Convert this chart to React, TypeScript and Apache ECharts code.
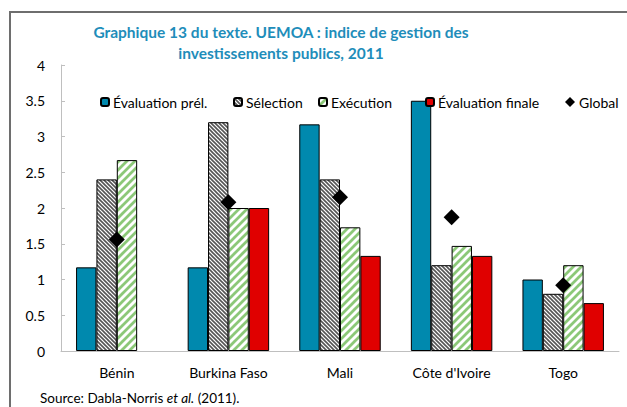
import React, { useEffect, useRef } from "react";
import * as echarts from "echarts";

const categories = ["Bénin", "Burkina Faso", "Mali", "Côte d'Ivoire", "Togo"];
const seriesNames = ["Évaluation prél.", "Sélection", "Exécution", "Évaluation finale", "Global"];
const evaluationPrel = [1.17, 1.17, 3.17, 3.5, 1.0];
const selection = [2.4, 3.2, 2.4, 1.2, 0.8];
const execution = [2.67, 2.0, 1.73, 1.47, 1.2];
const evaluationFinale = [0, 2.0, 1.33, 1.33, 0.67];
const globalIndex = [1.56, 2.08, 2.15, 1.87, 0.92];
const yTicks = { min: 0, max: 4, interval: 0.5 };

const FONT = "Lato";

function makeStripe(period: number, lineWidth: number, color: string, dir: "back" | "fwd") {
  const c = document.createElement("canvas");
  c.width = period;
  c.height = period;
  const ctx = c.getContext("2d")!;
  ctx.fillStyle = "#ffffff";
  ctx.fillRect(0, 0, period, period);
  ctx.strokeStyle = color;
  ctx.lineWidth = lineWidth;
  ctx.lineCap = "square";
  for (let k = -1; k <= 1; k++) {
    ctx.beginPath();
    if (dir === "back") {
      ctx.moveTo(k * period, 0);
      ctx.lineTo(k * period + period, period);
    } else {
      ctx.moveTo(k * period, period);
      ctx.lineTo(k * period + period, 0);
    }
    ctx.stroke();
  }
  return c;
}

export default function App() {
  const ref = useRef<HTMLDivElement>(null);
  useEffect(() => {
    document.body.style.margin = "0";
    const chart = echarts.init(ref.current!, null, { renderer: "svg" });
    const selPattern = makeStripe(4, 1.6, "#555555", "back");
    const exePattern = makeStripe(8, 2.8, "#8cc878", "fwd");
    const border = { borderColor: "#000", borderWidth: 1 };
    const legendLefts = [100, 233, 318, 425, 565];
    const hideZero = (arr: number[]) =>
      arr.map((v) => (v === 0 ? { value: v, itemStyle: { borderWidth: 0 } } : v));
    const option: any = {
      animation: false,
      backgroundColor: "#fff",
      textStyle: { fontFamily: FONT },
      title: {
        text: "Graphique 13 du texte. UEMOA : indice de gestion des\ninvestissements publics, 2011",
        left: 276,
        top: 16,
        textAlign: "center",
        textStyle: { fontFamily: FONT, fontSize: 15.5, fontWeight: "bold", color: "#1e8dba", lineHeight: 21 },
      },
      legend: seriesNames.map((n, i) => ({
        data: [n],
        left: legendLefts[i],
        top: 95,
        itemWidth: i === 4 ? 10 : 8,
        itemHeight: i === 4 ? 10 : 8,
        itemGap: 0,
        padding: 0,
        textStyle: { fontFamily: FONT, fontSize: 14, color: "#000", padding: [0, 0, 0, -1] },
      })),
      grid: { left: 61, right: 8, top: 65, bottom: 56, containLabel: false },
      xAxis: {
        type: "category",
        data: categories,
        axisLine: { lineStyle: { color: "#bfbfbf", width: 1 } },
        axisTick: { inside: true, length: 5, lineStyle: { color: "#bfbfbf" } },
        axisLabel: { color: "#000", fontSize: 14, fontFamily: FONT, margin: 14 },
      },
      yAxis: {
        type: "value",
        min: yTicks.min,
        max: yTicks.max,
        interval: yTicks.interval,
        splitLine: { show: false },
        axisLine: { show: true, lineStyle: { color: "#bfbfbf", width: 1 } },
        axisTick: { show: true, inside: true, length: 4, lineStyle: { color: "#bfbfbf" } },
        axisLabel: { color: "#000", fontSize: 14, fontFamily: FONT, margin: 16 },
      },
      series: [
        {
          name: seriesNames[0], type: "bar", data: hideZero(evaluationPrel), barGap: "0%", barCategoryGap: "27%",
          itemStyle: { color: "#0089ae", ...border },
        },
        {
          name: seriesNames[1], type: "bar", data: hideZero(selection), barGap: "0%", barCategoryGap: "27%",
          itemStyle: { color: { image: selPattern, repeat: "repeat" }, ...border },
        },
        {
          name: seriesNames[2], type: "bar", data: hideZero(execution), barGap: "0%", barCategoryGap: "27%",
          itemStyle: { color: { image: exePattern, repeat: "repeat" }, ...border },
        },
        {
          name: seriesNames[3], type: "bar", data: hideZero(evaluationFinale), barGap: "0%", barCategoryGap: "27%",
          itemStyle: { color: "#e00000", ...border },
        },
        {
          name: seriesNames[4], type: "scatter", data: globalIndex, symbol: "diamond", symbolSize: 16,
          itemStyle: { color: "#000", opacity: 1 }, z: 5,
        },
      ],
      graphic: [
        { type: "line", shape: { x1: 10, y1: 12, x2: 10, y2: 407 }, style: { stroke: "#6e6e6e", lineWidth: 2 } },
        { type: "line", shape: { x1: 9, y1: 12, x2: 627, y2: 12 }, style: { stroke: "#6e6e6e", lineWidth: 2 } },
        {
          type: "text", left: 40, top: 391,
          style: {
            text: "{a|Source: Dabla-Norris }{i|et al.}{a| (2011).}",
            rich: {
              a: { fontFamily: FONT, fontSize: 13.5, fill: "#000" },
              i: { fontFamily: FONT, fontSize: 13.5, fontStyle: "italic", fill: "#000" },
            },
          },
        },
      ],
    };
    chart.setOption(option);
    return () => chart.dispose();
  }, []);
  return <div ref={ref} style={{ position: "absolute", left: 0, top: 0, width: 627, height: 407 }} />;
}
